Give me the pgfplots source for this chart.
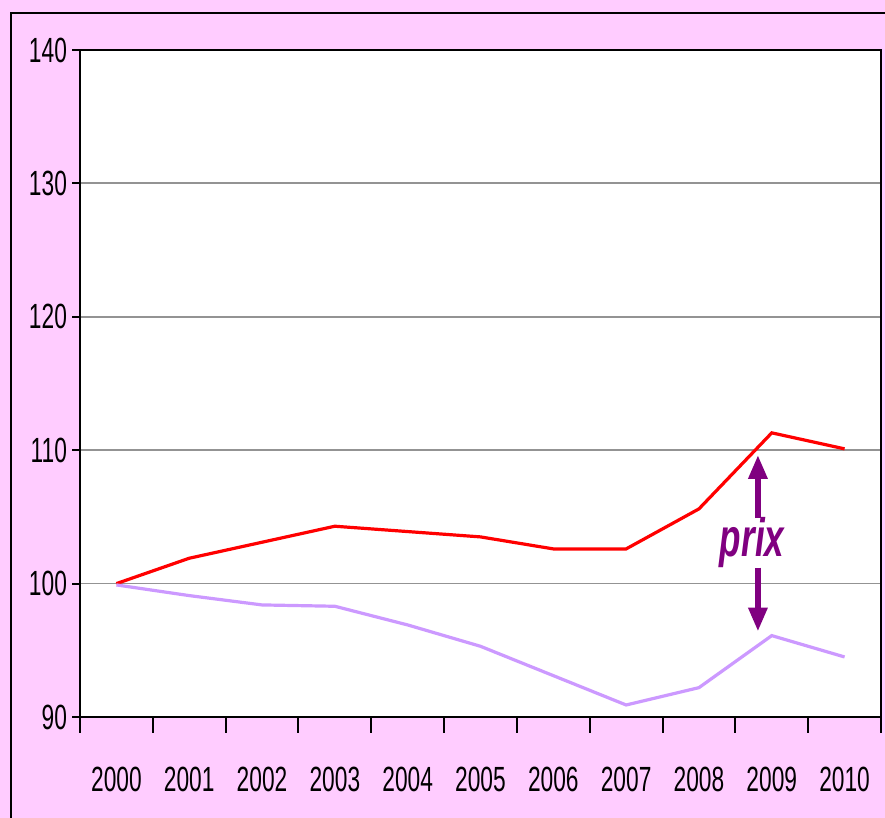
\documentclass[border=0pt]{standalone}
\usepackage{pgfplots}
\pgfplotsset{compat=1.18}
\usepackage{fontspec}
\setmainfont{Liberation Sans}[FakeStretch=0.65]
\usetikzlibrary{arrows.meta}
\definecolor{bgpink}{HTML}{FFCCFF}
\definecolor{lilac}{HTML}{CC99FF}
\definecolor{prixpurple}{HTML}{800080}
\begin{document}
\begin{tikzpicture}
\useasboundingbox (0pt,0pt) rectangle (442.5pt,409pt);
\fill[bgpink] (0pt,0pt) rectangle (442.5pt,409pt);
\draw[line width=1.2pt] (5.5pt,0pt) -- (5.5pt,402.5pt) -- (442.5pt,402.5pt);
\begin{axis}[
  at={(40pt,50.5pt)}, anchor=south west,
  scale only axis, width=400.5pt, height=333.5pt,
  xmin=-0.5, xmax=10.5, ymin=90, ymax=140,
  axis background/.style={fill=white},
  axis line style={black, line width=1pt},
  xtick={0,...,10},
  xticklabels={2000,2001,2002,2003,2004,2005,2006,2007,2008,2009,2010},
  minor xtick={-0.5,0.5,...,10.5},
  ytick={90,100,...,140},
  ymajorgrids,
  grid style={gray!85, line width=0.9pt},
  tick align=outside,
  tick pos=left,
  major tick length=4pt,
  minor tick length=8pt,
  major x tick style={draw=none},
  minor x tick style={black, line width=1pt},
  ytick style={black, line width=1pt},
  tick label style={font=\fontsize{17.5}{20}\selectfont, black},
  /pgf/number format/assume math mode=true,
  xticklabel style={anchor=center, yshift=-27pt},
  yticklabel style={anchor=east, xshift=1pt},
  clip=false,
]
\addplot[red, line width=1.6pt] coordinates {
(0,100.0) (1,101.9) (2,103.1) (3,104.3) (4,103.9) (5,103.5) (6,102.6) (7,102.6) (8,105.6) (9,111.3) (10,110.1)};
\addplot[lilac, line width=1.6pt] coordinates {
(0,99.9) (1,99.1) (2,98.4) (3,98.3) (4,96.9) (5,95.3) (6,93.1) (7,90.9) (8,92.2) (9,96.1) (10,94.5)};
\draw[prixpurple, line width=3.4pt, -{Triangle[width=9pt,length=12pt]}] (axis cs:8.81,104.9) -- (axis cs:8.81,109.65);
\draw[prixpurple, line width=3.4pt, -{Triangle[width=9pt,length=12pt]}] (axis cs:8.81,101.2) -- (axis cs:8.81,96.4);
\node[font=\fontsize{27}{30}\selectfont\bfseries\itshape, text=prixpurple] at (axis cs:8.73,103.1) {prix};
\end{axis}
\end{tikzpicture}
\end{document}
